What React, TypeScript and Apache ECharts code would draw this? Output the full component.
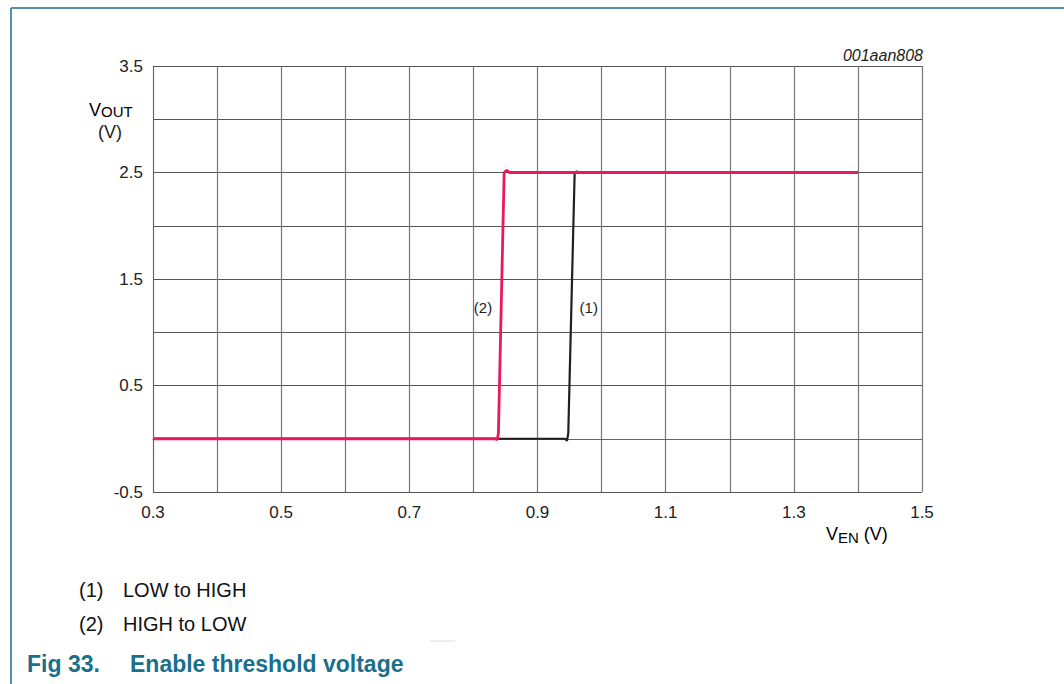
import React, { useEffect, useRef } from "react";
import * as echarts from "echarts";

const xTicks = [0.3, 0.5, 0.7, 0.9, 1.1, 1.3, 1.5];
const yTicks = [-0.5, 0.5, 1.5, 2.5, 3.5];

// (1) LOW to HIGH
const lowToHigh: [number, number][] = [
  [0.3, 0], [0.943, 0], [0.946, -0.02], [0.948, 0.05], [0.958, 2.5], [0.961, 2.51], [0.966, 2.5], [1.4, 2.5],
];
// (2) HIGH to LOW
const highToLow: [number, number][] = [
  [0.3, 0], [0.834, 0], [0.837, -0.01], [0.839, 0.05], [0.848, 2.5], [0.852, 2.52], [0.856, 2.5], [0.86, 2.5], [1.4, 2.5],
];

const labelPoints = [
  { name: "(2)", coord: [0.815, 1.23] },
  { name: "(1)", coord: [0.98, 1.23] },
];

const notes = ["(1)", "(2)"];
const noteTexts = ["LOW to HIGH", "HIGH to LOW"];

const TEAL = "#1a6f8a";
const PINK = "#e8195c";
const BLACK = "#231f20";
const FONT = "'Liberation Sans', Arial, sans-serif";

export default function App() {
  const ref = useRef<HTMLDivElement>(null);
  useEffect(() => {
    document.body.style.margin = "0";
    const chart = echarts.init(ref.current!, null, { renderer: "svg" });
    const near = (v: number, arr: number[]) => arr.some((t) => Math.abs(t - v) < 1e-6);
    chart.setOption({
      animation: false,
      backgroundColor: "#fff",
      textStyle: { fontFamily: FONT },
      grid: { left: 153, right: 142, top: 66, bottom: 192, containLabel: false },
      xAxis: {
        type: "value",
        min: 0.3,
        max: 1.5,
        interval: 0.1,
        axisLine: { show: true, lineStyle: { color: "#666", width: 1 } },
        axisTick: { show: false },
        splitLine: { show: true, lineStyle: { color: "#777", width: 1.2 } },
        axisLabel: {
          color: "#222",
          fontSize: 17,
          margin: 12,
          fontFamily: FONT,
          formatter: (v: number) => (near(v, xTicks) ? v.toFixed(1) : ""),
        },
      },
      yAxis: {
        type: "value",
        min: -0.5,
        max: 3.5,
        interval: 0.5,
        axisLine: { show: true, lineStyle: { color: "#666", width: 1 } },
        axisTick: { show: false },
        splitLine: { show: true, lineStyle: { color: "#555", width: 1.2 } },
        axisLabel: {
          color: "#222",
          fontSize: 17,
          margin: 10,
          fontFamily: FONT,
          formatter: (v: number) => (near(v, yTicks) ? v.toFixed(1) : ""),
        },
      },
      series: [
        {
          name: "LOW to HIGH",
          type: "line",
          data: lowToHigh,
          showSymbol: false,
          lineStyle: { color: BLACK, width: 2.2 },
          z: 2,
        },
        {
          name: "HIGH to LOW",
          type: "line",
          data: highToLow,
          showSymbol: false,
          lineStyle: { color: PINK, width: 2.8 },
          z: 3,
          markPoint: {
            symbol: "circle",
            symbolSize: 0,
            data: labelPoints.map((p) => ({
              coord: p.coord,
              label: { show: true, formatter: p.name, color: "#222", fontSize: 15, position: "inside", fontFamily: FONT },
            })),
          },
        },
      ],
      graphic: [
        { type: "line", shape: { x1: 11, y1: 8, x2: 1064, y2: 8 }, style: { stroke: TEAL, lineWidth: 1.5 } },
        { type: "line", shape: { x1: 11, y1: 8, x2: 11, y2: 684 }, style: { stroke: TEAL, lineWidth: 1.5 } },
        {
          type: "text",
          x: 923,
          y: 55,
          style: { text: "001aan808", align: "right", verticalAlign: "middle", font: `italic 16px ${FONT}`, fill: "#222" },
        },
        {
          type: "text",
          x: 89,
          y: 110,
          style: {
            text: "{a|V}{b|OUT}",
            verticalAlign: "middle",
            rich: {
              a: { fontSize: 18, fontFamily: FONT, color: "#222" },
              b: { fontSize: 15, fontFamily: FONT, color: "#222", padding: [3, 0, 0, 0] },
            },
          } as any,
        },
        {
          type: "text",
          x: 110,
          y: 132,
          style: { text: "(V)", align: "center", verticalAlign: "middle", font: `18px ${FONT}`, fill: "#222" },
        },
        {
          type: "text",
          x: 826,
          y: 534,
          style: {
            text: "{a|V}{b|EN}{a| (V)}",
            verticalAlign: "middle",
            rich: {
              a: { fontSize: 18, fontFamily: FONT, color: "#222" },
              b: { fontSize: 15, fontFamily: FONT, color: "#222", padding: [6, 0, 0, 0] },
            },
          } as any,
        },
        ...notes.flatMap((n, i) => [
          {
            type: "text",
            x: 79,
            y: 590 + i * 34,
            style: { text: n, verticalAlign: "middle", font: `20px ${FONT}`, fill: "#111" },
          },
          {
            type: "text",
            x: 123,
            y: 590 + i * 34,
            style: { text: noteTexts[i], verticalAlign: "middle", font: `20px ${FONT}`, fill: "#111" },
          },
        ]),
        { type: "line", shape: { x1: 430, y1: 641, x2: 455, y2: 641 }, style: { stroke: "#ddd", lineWidth: 1 } },
        {
          type: "text",
          x: 27,
          y: 664,
          style: { text: "Fig 33.", verticalAlign: "middle", font: `bold 23px ${FONT}`, fill: TEAL },
        },
        {
          type: "text",
          x: 130,
          y: 664,
          style: { text: "Enable threshold voltage", verticalAlign: "middle", font: `bold 23px ${FONT}`, fill: TEAL },
        },
      ],
    });
    return () => chart.dispose();
  }, []);
  return <div ref={ref} style={{ width: 1064, height: 684 }} />;
}
